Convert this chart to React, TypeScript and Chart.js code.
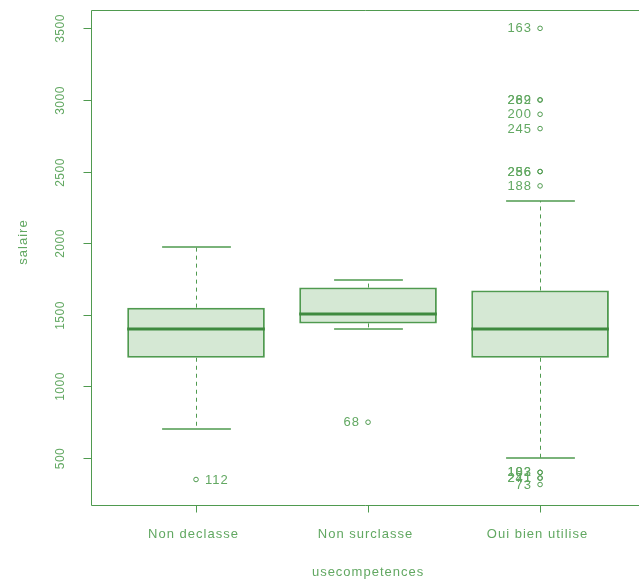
import React, { useEffect, useRef } from "react";
import { Chart, registerables } from "chart.js";

Chart.register(...registerables);

// ---- data ----
const categories = ["Non declasse", "Non surclasse", "Oui bien utilise"];
const lowerWhisker = [700, 1400, 500];
const q1 = [1200, 1440, 1200];
const median = [1400, 1505, 1400];
const q3 = [1550, 1690, 1670];
const upperWhisker = [1975, 1745, 2295];

const outlierGroup = [1, 2, 3, 3, 3, 3, 3, 3, 3, 3, 3, 3, 3, 3, 3];
const outlierValue = [350, 750, 3500, 3000, 3000, 2900, 2800, 2500, 2500, 2400, 400, 400, 360, 360, 315];
const outlierLabel = ["112", "68", "163", "262", "289", "200", "245", "256", "286", "188", "102", "183", "241", "271", "73"];

const yTicks = [500, 1000, 1500, 2000, 2500, 3000, 3500];
const xTitle = "usecompetences";
const yTitle = "salaire";

// ---- style ----
const LINE = "#4f9a4f";
const TEXT = "#62a862";
const FILL = "#d5e8d4";
const MED = "#3f8a3f";
const FONT = '"Liberation Sans", Arial, sans-serif';

const boxPlugin = {
  id: "boxExtras",
  beforeDatasetsDraw(chart: any) {
    const { ctx } = chart;
    const xs = chart.scales.x;
    const ys = chart.scales.y;
    ctx.save();
    ctx.strokeStyle = LINE;
    ctx.lineWidth = 1;
    categories.forEach((_, i) => {
      const xc = Math.round(xs.getPixelForValue(i + 1)) + 0.5;
      const half = xs.getPixelForValue(1.2) - xs.getPixelForValue(1);
      ctx.setLineDash([4, 4]);
      ctx.beginPath();
      ctx.moveTo(xc, ys.getPixelForValue(q3[i]));
      ctx.lineTo(xc, ys.getPixelForValue(upperWhisker[i]));
      ctx.moveTo(xc, ys.getPixelForValue(q1[i]));
      ctx.lineTo(xc, ys.getPixelForValue(lowerWhisker[i]));
      ctx.stroke();
      ctx.setLineDash([]);
      ctx.lineWidth = 1.5;
      ctx.beginPath();
      const yu = Math.round(ys.getPixelForValue(upperWhisker[i]));
      const yl = Math.round(ys.getPixelForValue(lowerWhisker[i]));
      ctx.moveTo(xc - half, yu);
      ctx.lineTo(xc + half, yu);
      ctx.moveTo(xc - half, yl);
      ctx.lineTo(xc + half, yl);
      ctx.stroke();
      ctx.lineWidth = 1;
    });
    ctx.restore();
  },
  afterDatasetsDraw(chart: any) {
    const { ctx } = chart;
    const xs = chart.scales.x;
    const ys = chart.scales.y;
    ctx.save();
    ctx.strokeStyle = MED;
    ctx.lineWidth = 3;
    categories.forEach((_, i) => {
      const x0 = xs.getPixelForValue(i + 1 - 0.4);
      const x1 = xs.getPixelForValue(i + 1 + 0.4);
      const y = ys.getPixelForValue(median[i]);
      ctx.beginPath();
      ctx.moveTo(x0, y);
      ctx.lineTo(x1, y);
      ctx.stroke();
    });
    ctx.fillStyle = TEXT;
    ctx.font = `13px ${FONT}`;
    (ctx as any).letterSpacing = "1px";
    ctx.textBaseline = "middle";
    outlierValue.forEach((v, k) => {
      const g = outlierGroup[k];
      const x = xs.getPixelForValue(g);
      const y = ys.getPixelForValue(v);
      if (g === 1) {
        ctx.textAlign = "left";
        ctx.fillText(outlierLabel[k], x + 9, y + 0.5);
      } else {
        ctx.textAlign = "right";
        ctx.fillText(outlierLabel[k], x - 8, y + 0.5);
      }
    });
    ctx.restore();
  },
  afterDraw(chart: any) {
    const { ctx, chartArea } = chart;
    const xs = chart.scales.x;
    const ys = chart.scales.y;
    const L = chartArea.left + 0.5;
    const T = chartArea.top + 0.5;
    const B = chartArea.bottom + 0.5;
    const R = chart.width;
    ctx.save();
    ctx.strokeStyle = LINE;
    ctx.lineWidth = 1;
    ctx.beginPath();
    ctx.moveTo(R, T);
    ctx.lineTo(L, T);
    ctx.lineTo(L, B);
    ctx.lineTo(R, B);
    ctx.stroke();
    ctx.fillStyle = TEXT;
    ctx.font = `12px ${FONT}`;
    ctx.textAlign = "center";
    ctx.textBaseline = "middle";
    yTicks.forEach((v) => {
      const y = Math.round(ys.getPixelForValue(v)) + 0.5;
      ctx.beginPath();
      ctx.moveTo(L - 8, y);
      ctx.lineTo(L, y);
      ctx.stroke();
      ctx.save();
      ctx.translate(61, y);
      ctx.rotate(-Math.PI / 2);
      (ctx as any).letterSpacing = "0.5px";
      ctx.fillText(String(v), 0, 0);
      ctx.restore();
    });
    ctx.font = `13px ${FONT}`;
    (ctx as any).letterSpacing = "1px";
    categories.forEach((c, i) => {
      const x = Math.round(xs.getPixelForValue(i + 1)) + 0.5;
      ctx.beginPath();
      ctx.moveTo(x, B);
      ctx.lineTo(x, B + 7);
      ctx.stroke();
      ctx.fillText(c, x - 3, 534);
    });
    ctx.fillText(xTitle, xs.getPixelForValue(2), 572);
    ctx.save();
    ctx.translate(23, 242);
    ctx.rotate(-Math.PI / 2);
    ctx.fillText(yTitle, 0, 0);
    ctx.restore();
    ctx.restore();
  },
};

export default function App() {
  const ref = useRef<HTMLCanvasElement | null>(null);
  useEffect(() => {
    if (!ref.current) return;
    const chart = new Chart(ref.current, {
      type: "bar",
      data: {
        datasets: [
          {
            type: "bar",
            data: categories.map((_, i) => ({ x: i + 1, y: [q1[i], q3[i]] })) as any,
            backgroundColor: FILL,
            borderColor: LINE,
            borderWidth: 2,
            borderSkipped: false,
            barPercentage: 1,
            categoryPercentage: 0.8,
          } as any,
          {
            type: "scatter",
            data: outlierValue.map((v, k) => ({ x: outlierGroup[k], y: v })),
            pointStyle: "circle",
            pointRadius: 2.3,
            borderWidth: 1,
            borderColor: LINE,
            backgroundColor: "rgba(255,255,255,0)",
          } as any,
        ],
      },
      options: {
        responsive: false,
        animation: false,
        layout: { padding: { left: 91, top: 10, right: 0, bottom: 77 } },
        plugins: { legend: { display: false }, tooltip: { enabled: false } },
        scales: {
          x: {
            type: "linear",
            offset: false,
            min: 0.3895,
            max: 3.546,
            display: false,
            afterBuildTicks: (s: any) => {
              s.ticks = [1, 2, 3].map((v) => ({ value: v }));
            },
          },
          y: { type: "linear", min: 172, max: 3628, display: false },
        },
      },
      plugins: [boxPlugin],
    } as any);
    return () => chart.destroy();
  }, []);
  return (
    <div style={{ position: "fixed", left: 0, top: 0, width: 639, height: 582, background: "#fff" }}>
      <canvas ref={ref} width={639} height={582} style={{ display: "block" }} />
    </div>
  );
}
